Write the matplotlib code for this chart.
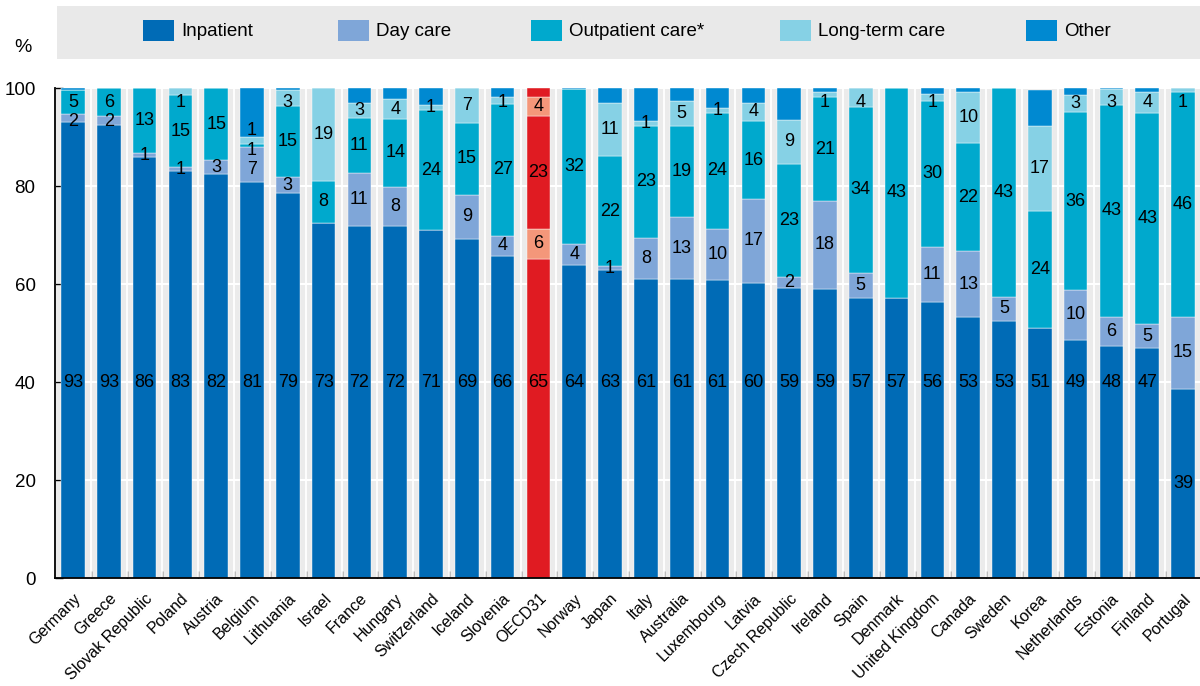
import numpy as np
import matplotlib.pyplot as plt
from matplotlib.patches import Rectangle

plt.rcParams['font.family'] = ['Liberation Sans', 'DejaVu Sans']

countries = ['Germany', 'Greece', 'Slovak Republic', 'Poland', 'Austria', 'Belgium',
             'Lithuania', 'Israel', 'France', 'Hungary', 'Switzerland', 'Iceland',
             'Slovenia', 'OECD31', 'Norway', 'Japan', 'Italy', 'Australia',
             'Luxembourg', 'Latvia', 'Czech Republic', 'Ireland', 'Spain', 'Denmark',
             'United Kingdom', 'Canada', 'Sweden', 'Korea', 'Netherlands', 'Estonia',
             'Finland', 'Portugal']

inpatient = [93.1, 92.6, 86.0, 83.1, 82.5, 80.9, 78.7, 72.6, 71.9, 71.9, 71.1, 69.3,
             65.8, 65.2, 64.0, 62.9, 61.1, 61.1, 60.9, 60.3, 59.2, 59.1, 57.3, 57.3,
             56.3, 53.4, 52.6, 51.1, 48.7, 47.5, 46.9, 38.6]
day_care = [1.7, 1.8, 0.7, 0.8, 2.8, 7.1, 3.1, 0.0, 10.8, 8.0, 0.0, 8.9,
            4.1, 6.1, 4.2, 0.8, 8.3, 12.6, 10.4, 17.1, 2.3, 17.9, 5.1, 0.0,
            11.4, 13.3, 4.8, 0.0, 10.1, 5.9, 5.0, 14.8]
outpatient = [4.9, 5.6, 13.3, 14.7, 14.7, 0.7, 14.6, 8.4, 11.3, 13.8, 24.4, 14.8,
              26.9, 23.0, 31.6, 22.4, 23.0, 18.7, 23.7, 15.9, 23.1, 21.2, 33.8, 42.7,
              29.8, 22.2, 42.6, 23.9, 36.4, 43.2, 43.1, 45.9]
long_term = [0.0, 0.0, 0.0, 1.4, 0.0, 1.4, 3.2, 19.0, 3.1, 4.1, 1.0, 7.0,
             1.4, 3.9, 0.0, 10.8, 1.0, 5.0, 0.9, 3.8, 8.9, 1.1, 3.8, 0.0,
             1.3, 10.4, 0.0, 17.3, 3.4, 3.2, 4.2, 0.7]
other = [0.3, 0.0, 0.0, 0.0, 0.0, 9.9, 0.4, 0.0, 2.9, 2.2, 3.5, 0.0,
         1.8, 1.8, 0.2, 3.1, 6.6, 2.6, 4.1, 2.9, 6.5, 0.7, 0.0, 0.0,
         1.2, 0.7, 0.0, 7.4, 1.4, 0.2, 0.8, 0.0]

series_names = ['Inpatient', 'Day care', 'Outpatient care*', 'Long-term care', 'Other']
series_colors = ['#006bb6', '#7fa6d8', '#00a9cd', '#86d1e5', '#0089d1']
oecd_colors = ['#e01b22', '#f4977a', '#e01b22', '#f4977a', '#e01b22']
series = [inpatient, day_care, outpatient, long_term, other]

fig = plt.figure(figsize=(12, 6.86), dpi=100)
ax = fig.add_axes([55 / 1200, 107.7 / 686, 1146 / 1200, 490 / 686])
ax.set_facecolor('#ebebeb')

x = np.arange(len(countries))
oecd_idx = countries.index('OECD31')
bottom = np.zeros(len(countries))
labels = [[] for _ in countries]   # (y, text) per bar
for k, (name, vals) in enumerate(zip(series_names, series)):
    vals = np.array(vals)
    cols = [oecd_colors[k] if i == oecd_idx else series_colors[k] for i in x]
    ax.bar(x, vals, bottom=bottom, width=0.66, color=cols, edgecolor='white',
           linewidth=0.3, zorder=2)
    if k < 4:
        for i, v in enumerate(vals):
            if round(v) >= 1:
                if k == 0:
                    y = 40 if v > 40 else v / 2
                else:
                    y = bottom[i] + v / 2
                labels[i].append([y, f"{v:.0f}"])
    bottom += vals

# push apart labels of thin segments so they don't overlap
min_gap = 4.0
for i, labs in enumerate(labels):
    for _ in range(60):
        for j in range(1, len(labs)):
            gap = labs[j][0] - labs[j - 1][0]
            if gap < min_gap:
                d = (min_gap - gap) / 2
                labs[j][0] += d
                labs[j - 1][0] -= d
        labs[-1][0] = min(labs[-1][0], 97.2)
    for y, t in labs:
        ax.text(i, y, t, ha='center', va='center', fontsize=13, color='black', zorder=3)

ax.set_xlim(-0.5, len(countries) - 0.5)
ax.set_ylim(0, 100)
ax.set_yticks([0, 20, 40, 60, 80, 100])
ax.set_axisbelow(True)
ax.yaxis.grid(True, color='white', linewidth=1.5)
for b in np.arange(-0.5, len(countries)):
    ax.axvline(b, color='white', linewidth=1.3, zorder=0.8)

ax.set_xticks(x)
ax.set_xticklabels(countries, rotation=45, ha='right', rotation_mode='anchor', fontsize=11.5)
ax.set_xticks(np.arange(0.5, len(countries) - 1), minor=True)
ax.tick_params(axis='x', which='major', length=0, pad=9)
ax.tick_params(axis='x', which='minor', direction='in', length=5, width=1)
ax.tick_params(axis='y', direction='in', length=6, width=1, labelsize=13.5, pad=14)

for s in ['top', 'right']:
    ax.spines[s].set_visible(False)
for s in ['left', 'bottom']:
    ax.spines[s].set_linewidth(1.3)
    ax.spines[s].set_color('black')

# legend band
fig.patches.append(Rectangle((57 / 1200, (686 - 59) / 686), 1143 / 1200, 53 / 686,
                             transform=fig.transFigure, facecolor='#e9e9e9',
                             edgecolor='none', zorder=0))
legend_x = [143, 338, 531, 780, 1026]
for lx, name, c in zip(legend_x, series_names, series_colors):
    fig.patches.append(Rectangle((lx / 1200, (686 - 41) / 686), 31 / 1200, 21 / 686,
                                 transform=fig.transFigure, facecolor=c,
                                 edgecolor='none', zorder=1))
    fig.text((lx + 38) / 1200, (686 - 31) / 686, name, ha='left', va='center', fontsize=13.5)
fig.text(23 / 1200, (686 - 47) / 686, '%', ha='center', va='center', fontsize=14)

fig.savefig('out.png', dpi=100)
